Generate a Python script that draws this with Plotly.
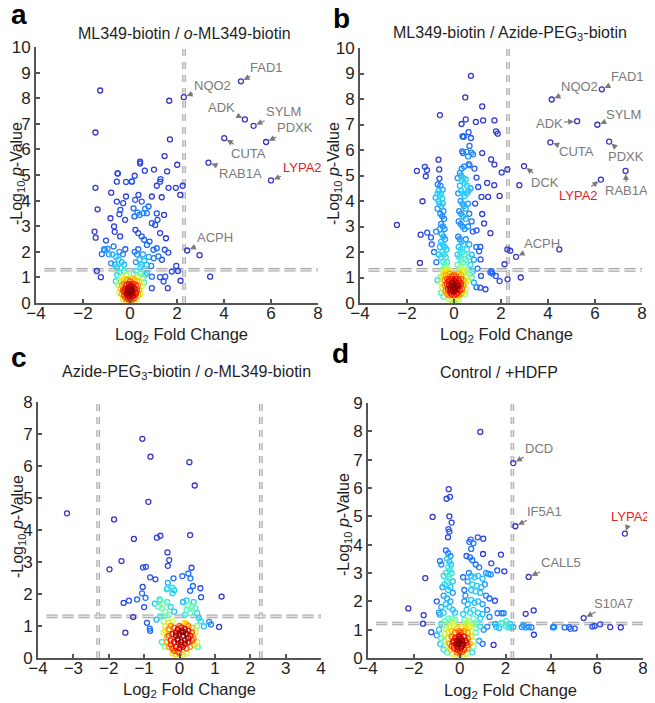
import numpy as np
import plotly.graph_objects as go

# ---- data: (log2 fold change, -log10 p) ----
A_PTS = [
    (-1.27, 8.30), (-1.47, 6.66), (1.67, 7.90), (2.29, 8.04), (4.72, 8.66), (4.89, 7.17), (5.26, 6.92),
    (5.79, 6.29), (4.01, 6.44), (3.34, 5.48), (6.00, 4.79), (1.70, 6.39), (1.47, 5.74), (2.01, 5.40),
    (1.58, 5.14), (1.02, 5.21), (0.63, 5.17), (0.43, 5.52), (0.43, 5.45), (0.20, 4.97), (-0.52, 5.06),
    (1.30, 4.84), (2.43, 2.05), (2.96, 1.87), (3.41, 1.03), (2.24, 4.58), (2.14, 4.22), (1.95, 4.50),
    (1.64, 4.50), (1.28, 4.74), (1.14, 4.58), (1.35, 4.13), (1.45, 3.44), (1.14, 3.50), (0.93, 4.16),
    (-1.47, 4.50), (-1.38, 3.66), (-1.51, 2.79), (-1.46, 2.55), (-0.80, 4.31), (-0.56, 3.96), (-0.17, 4.73),
    (0.08, 4.75), (-1.41, 1.25), (-1.24, 1.01), (1.53, 2.53), (1.63, 1.97), (1.97, 1.45), (1.78, 1.23),
    (2.04, 1.25), (2.15, 0.87), (1.61, 0.58), (1.43, 0.84), (1.50, 1.03), (1.28, 1.01), (0.93, 0.58),
    (0.93, 1.03), (0.72, 1.17),
    (-0.29, 3.90), (-0.41, 3.64), (-0.45, 3.47), (-0.21, 3.25), (-0.68, 2.99), (-0.83, 3.31), (-0.65, 2.78),
    (-0.42, 2.60), (-1.02, 2.44), (-0.96, 2.12), (-1.07, 2.08), (-1.20, 1.91), (-0.70, 2.21), (0.19, 3.38),
    (0.32, 3.53), (0.40, 3.44), (0.23, 2.86), (0.35, 2.73), (0.50, 2.60), (0.60, 2.47), (0.72, 2.27),
    (0.83, 2.40), (1.00, 2.08), (1.14, 2.14), (0.57, 3.51), (0.72, 3.51), (0.64, 3.68), (0.79, 3.77),
    (0.93, 3.12), (1.07, 3.05), (1.17, 3.25), (1.28, 2.73), (1.48, 2.08), (1.21, 1.82), (1.36, 1.69),
    (1.01, 1.75), (0.22, 4.03), (0.36, 4.22), (0.50, 3.96), (0.15, 3.70), (-0.17, 4.16), (-0.56, 4.74),
    (0.08, 4.74), (-0.53, 5.06), (-1.10, 2.10), (-0.90, 1.90),
    (-0.75, 1.90), (-0.60, 1.80), (-0.50, 1.70), (-0.45, 2.00), (-0.35, 1.60), (-0.30, 1.90), (-0.25, 1.50),
    (-0.65, 1.50), (-0.55, 1.40), (0.25, 1.60), (0.30, 1.90), (0.40, 1.70), (0.50, 1.50), (0.55, 1.90),
    (0.60, 1.65), (0.70, 1.50), (0.80, 1.80), (0.35, 2.10), (0.20, 2.00), (-0.20, 2.10), (0.90, 1.45),
    (-0.80, 1.55), (0.45, 1.40), (-0.40, 1.35),
    (-0.55, 1.10), (-0.45, 1.20), (-0.35, 1.00), (-0.25, 1.25), (-0.15, 1.10), (0.15, 1.15), (0.25, 1.25),
    (0.35, 1.05), (0.45, 1.15), (0.55, 0.95), (-0.60, 0.85), (0.60, 0.80), (-0.50, 0.70), (0.50, 0.65),
    (0.65, 1.10),
    (-0.30, 0.90), (-0.20, 0.95), (-0.10, 0.90), (0.00, 0.85), (0.10, 0.95), (0.20, 0.90), (0.30, 0.85),
    (-0.35, 0.70), (-0.25, 0.75), (-0.15, 0.70), (-0.05, 0.75), (0.05, 0.70), (0.15, 0.75), (0.25, 0.70),
    (0.35, 0.70), (-0.40, 0.55), (-0.30, 0.50), (-0.20, 0.55), (-0.10, 0.50), (0.00, 0.55), (0.10, 0.50),
    (0.20, 0.55), (0.30, 0.50), (0.40, 0.50), (-0.35, 0.35), (-0.25, 0.30), (-0.15, 0.35), (-0.05, 0.30),
    (0.05, 0.35), (0.15, 0.30), (0.25, 0.35), (0.35, 0.30), (-0.30, 0.15), (-0.20, 0.20), (-0.10, 0.15),
    (0.00, 0.20), (0.10, 0.15), (0.20, 0.20), (0.30, 0.15), (-0.15, 0.05), (-0.05, 0.02), (0.05, 0.05),
    (0.15, 0.03), (-0.05, 0.60), (0.05, 0.45), (-0.10, 0.40), (0.10, 0.65), (0.00, 0.40), (0.00, 0.10),
    (-0.45, 0.85), (0.42, 0.85), (-0.45, 0.40), (0.45, 0.35), (-0.25, 0.45), (0.25, 0.42), (0.00, 0.65),
    (-0.10, 0.25), (0.10, 0.27),
]

B_PTS = [
    (0.72, 8.91), (0.48, 8.06), (1.20, 7.71), (-0.60, 7.37), (0.50, 7.20), (0.32, 7.02), (0.93, 7.10),
    (1.24, 7.16), (1.72, 7.16), (1.79, 6.73), (1.86, 6.64), (0.62, 6.70), (0.72, 6.47), (0.39, 6.53),
    (0.36, 6.53), (0.42, 6.52), (0.66, 6.16), (0.53, 5.93), (0.74, 5.90), (0.81, 5.83), (0.35, 5.95),
    (0.38, 5.88), (1.20, 5.88), (1.58, 5.63), (1.72, 5.43), (0.60, 5.75), (0.63, 5.45), (0.66, 5.40),
    (0.43, 5.35), (0.87, 5.27), (0.33, 5.27), (-0.66, 5.62), (-0.63, 5.24), (-1.24, 5.34), (-1.15, 5.21),
    (-1.58, 5.18), (2.27, 5.24), (2.03, 5.12), (2.98, 5.37), (4.16, 7.98), (6.29, 8.38), (5.24, 7.13),
    (6.10, 6.99), (4.10, 6.30), (6.60, 6.33), (7.30, 5.18), (6.25, 4.84),
    (2.78, 4.62), (1.94, 4.20), (1.71, 4.62), (1.45, 4.16), (1.41, 4.71), (1.17, 4.16), (1.03, 4.55),
    (0.96, 4.92), (0.90, 3.90), (1.20, 3.49), (1.28, 3.12), (0.96, 2.85), (1.55, 2.74), (1.12, 2.20),
    (1.07, 2.03), (1.13, 1.71), (1.00, 1.35), (1.15, 1.06), (1.55, 1.20), (1.64, 1.15), (1.78, 1.06),
    (1.60, 1.25), (1.94, 0.86), (2.28, 0.93), (2.84, 1.00), (2.27, 2.10), (2.39, 2.05), (2.64, 1.81),
    (4.48, 2.10), (2.15, 1.52), (1.34, 0.54), (1.12, 0.60), (0.96, 0.62), (-2.43, 3.06), (-1.42, 2.68),
    (-1.34, 3.99), (-1.45, 1.57), (-1.14, 2.76), (-0.98, 2.57), (-0.76, 2.80), (-1.20, 4.97), (-0.69, 4.65),
    (-0.62, 4.88), (-0.70, 4.29), (-0.78, 4.13),
    (-0.65, 4.40), (-0.60, 4.20), (-0.55, 4.30), (-0.50, 4.10), (-0.62, 3.90), (-0.55, 3.80), (-0.48, 3.90),
    (-0.45, 3.60), (-0.58, 3.50), (-0.50, 3.40), (-0.42, 3.30), (-0.55, 3.10), (-0.47, 3.00), (-0.40, 2.90),
    (-0.60, 2.90), (-0.52, 2.70), (-0.45, 2.60), (-0.38, 2.50), (-0.66, 4.00), (-0.70, 3.70), (-0.48, 4.45),
    (-0.58, 4.60),
    (-0.55, 2.40), (-0.48, 2.30), (-0.40, 2.20), (-0.50, 2.00), (-0.42, 1.90), (-0.35, 1.80), (-0.60, 2.20),
    (-0.55, 1.80), (-0.45, 1.60), (-0.32, 2.10), (-0.30, 1.60), (-0.65, 1.90), (-0.75, 1.60), (-0.85, 2.00),
    (-0.95, 2.30),
    (0.30, 5.00), (0.35, 4.80), (0.40, 4.90), (0.45, 4.70), (0.50, 4.85), (0.55, 4.60), (0.25, 4.60),
    (0.30, 4.40), (0.38, 4.30), (0.45, 4.20), (0.55, 4.30), (0.62, 4.40), (0.70, 4.50), (0.28, 4.00),
    (0.35, 3.90), (0.42, 3.80), (0.50, 3.70), (0.60, 3.90), (0.22, 3.60), (0.30, 3.50), (0.38, 3.40),
    (0.50, 3.30), (0.65, 3.50), (0.20, 3.20), (0.28, 3.10), (0.36, 3.00), (0.45, 2.90), (0.60, 3.00),
    (0.75, 3.20), (0.80, 2.80), (0.25, 5.10), (0.15, 4.90), (0.18, 4.30),
    (0.18, 2.60), (0.25, 2.50), (0.32, 2.40), (0.40, 2.30), (0.50, 2.50), (0.20, 2.20), (0.28, 2.10),
    (0.36, 2.00), (0.45, 1.90), (0.55, 2.10), (0.65, 2.30), (0.15, 1.90), (0.22, 1.80), (0.30, 1.70),
    (0.40, 1.60), (0.50, 1.70), (0.62, 1.80), (0.75, 1.90), (0.85, 1.70), (0.95, 2.20), (0.70, 1.50),
    (-0.40, 1.50), (-0.30, 1.40), (-0.20, 1.30), (0.15, 1.50), (0.25, 1.40), (0.35, 1.30), (0.45, 1.45),
    (0.55, 1.25), (-0.50, 1.30), (-0.45, 1.10), (-0.35, 1.20), (0.65, 1.15), (0.75, 1.00), (-0.60, 1.00),
    (0.60, 0.90), (0.85, 0.80), (-0.70, 0.90), (0.80, 1.25),
    (-0.35, 1.10), (-0.20, 1.15), (-0.10, 1.05), (0.00, 1.10), (0.10, 1.05), (0.20, 1.15), (0.30, 1.10),
    (-0.40, 0.90), (-0.30, 0.95), (-0.20, 0.90), (-0.10, 0.95), (0.00, 0.90), (0.10, 0.95), (0.20, 0.90),
    (0.30, 0.95), (0.40, 0.90), (-0.40, 0.70), (-0.30, 0.75), (-0.20, 0.70), (-0.10, 0.75), (0.00, 0.70),
    (0.10, 0.75), (0.20, 0.70), (0.30, 0.75), (0.40, 0.70), (-0.35, 0.50), (-0.25, 0.55), (-0.15, 0.50),
    (-0.05, 0.55), (0.05, 0.50), (0.15, 0.55), (0.25, 0.50), (0.35, 0.55), (-0.30, 0.35), (-0.20, 0.30),
    (-0.10, 0.35), (0.00, 0.30), (0.10, 0.35), (0.20, 0.30), (0.30, 0.35), (-0.20, 0.15), (-0.10, 0.10),
    (0.00, 0.15), (0.10, 0.10), (0.20, 0.15), (0.00, 0.03), (-0.05, 0.80), (0.05, 0.60), (-0.05, 0.45),
    (0.05, 0.85), (-0.15, 0.60), (0.15, 0.65),
    (-0.55, 0.80), (-0.50, 0.60), (-0.55, 0.40), (-0.45, 0.25), (0.50, 0.80), (0.50, 0.55), (0.45, 0.35),
    (0.55, 1.00), (-0.50, 1.05), (-0.40, 1.25), (0.40, 1.20), (-0.25, 1.30), (0.25, 1.30), (-0.25, 0.85),
    (0.25, 0.80), (-0.15, 0.40), (0.15, 0.40), (0.35, 0.40), (-0.40, 0.45), (0.00, 0.45), (0.00, 0.62),
]

C_PTS = [
    (-1.05, 6.85), (-0.82, 6.29), (0.28, 6.12), (0.43, 5.39), (-0.88, 4.88), (-3.18, 4.52), (-1.85, 4.33),
    (-1.29, 3.72), (-0.64, 3.76), (-0.54, 3.82), (0.30, 3.84), (-0.34, 3.30), (-0.29, 3.06), (-0.33, 2.88),
    (-1.64, 3.03), (-1.98, 2.77), (-1.03, 2.83), (-0.95, 2.85), (-0.83, 2.52), (-0.68, 2.46), (-0.17, 2.49),
    (0.08, 2.56), (0.25, 2.64), (0.34, 2.82), (0.31, 2.49), (0.38, 2.25), (0.59, 2.18), (0.30, 2.10),
    (0.61, 1.90), (1.19, 1.92), (-0.33, 2.35), (-0.36, 2.15), (-0.34, 2.17), (-0.20, 2.20), (-0.15, 2.12),
    (-0.20, 2.02), (-1.04, 2.22), (-1.06, 2.02), (-0.96, 1.88), (-1.20, 1.83), (-1.43, 1.79), (-1.58, 1.72),
    (-1.00, 1.59), (-1.31, 1.28), (-0.92, 1.10), (-0.83, 0.85), (-0.84, 0.92), (-1.53, 0.79), (0.84, 1.13),
    (0.89, 1.05), (1.12, 0.97), (0.69, 0.99), (0.52, 0.34), (-0.55, 1.80), (-0.56, 1.83),
    (-0.70, 1.70), (-0.60, 1.60), (-0.50, 1.55), (-0.45, 1.70), (-0.35, 1.75), (-0.25, 1.60), (-0.40, 1.45),
    (-0.30, 1.35), (-0.55, 1.30), (-0.65, 1.20), (0.10, 1.75), (0.20, 1.80), (0.25, 1.65), (0.35, 1.60),
    (0.40, 1.75), (0.45, 1.55), (0.50, 1.40), (0.30, 1.40), (0.20, 1.50), (0.55, 1.25), (0.60, 1.15),
    (0.15, 1.35), (-0.15, 1.45), (-0.45, 1.15), (0.50, 1.00),
    (-0.40, 1.00), (-0.30, 1.10), (-0.20, 1.15), (0.15, 1.10), (0.25, 1.00), (0.35, 0.95), (0.45, 0.80),
    (-0.45, 0.80), (-0.35, 0.65), (0.40, 0.60), (0.50, 0.50), (-0.50, 0.50), (0.50, 0.35),
    (-0.30, 0.90), (-0.15, 0.95), (-0.05, 0.90), (0.05, 0.95), (0.15, 0.90), (0.25, 0.85), (-0.30, 0.70),
    (-0.20, 0.75), (-0.10, 0.70), (0.00, 0.75), (0.10, 0.70), (0.20, 0.75), (0.30, 0.70), (-0.35, 0.50),
    (-0.25, 0.55), (-0.15, 0.50), (-0.05, 0.55), (0.05, 0.50), (0.15, 0.55), (0.25, 0.50), (0.35, 0.55),
    (-0.30, 0.35), (-0.20, 0.30), (-0.10, 0.35), (0.00, 0.30), (0.10, 0.35), (0.20, 0.30), (0.30, 0.35),
    (-0.20, 0.15), (-0.10, 0.10), (0.00, 0.15), (0.10, 0.10), (0.20, 0.15), (0.00, 0.03), (-0.05, 0.60),
    (0.05, 0.40), (-0.25, 0.42), (0.25, 0.62), (-0.15, 0.22), (0.15, 0.45), (-0.05, 0.20), (0.05, 0.82),
    (-0.40, 0.85), (0.35, 0.80), (-0.42, 0.35), (0.42, 0.40), (-0.25, 1.00), (0.20, 1.05), (0.00, 1.00),
    (-0.10, 0.80), (0.10, 0.82),
]

D_PTS = [
    (0.90, 7.98), (2.34, 6.88), (-0.48, 5.96), (-0.42, 5.69), (-0.57, 5.62), (-1.18, 4.98), (-0.45, 5.00),
    (-0.35, 4.78), (-0.49, 4.55), (-0.45, 4.46), (-0.51, 4.26), (0.79, 4.26), (1.03, 4.21), (0.48, 4.18),
    (0.42, 4.10), (2.43, 4.65), (7.21, 4.39), (1.02, 3.67), (1.80, 3.65), (1.38, 3.34), (1.64, 3.09),
    (1.95, 3.06), (1.25, 2.97), (1.35, 2.95), (1.15, 3.00), (3.01, 2.86), (3.23, 1.68), (2.88, 1.56),
    (5.41, 1.41), (-1.50, 2.82), (-2.24, 1.75), (-1.57, 1.51), (-1.60, 1.21), (-1.24, 0.91), (-0.86, 1.53),
    (-0.86, 3.42), (-0.80, 3.30), (1.54, 2.02), (1.48, 0.46), (1.65, 1.58), (1.83, 1.58), (1.92, 1.58),
    (1.72, 1.06), (1.82, 1.24), (1.99, 1.14), (2.13, 1.08), (2.24, 1.09), (2.34, 1.09), (2.71, 1.09),
    (2.79, 1.15), (2.88, 1.08), (3.01, 1.09), (3.13, 1.08), (3.24, 0.82), (4.07, 1.08), (4.10, 1.10),
    (4.12, 1.09), (4.09, 1.11), (4.58, 1.08), (4.77, 1.09), (4.84, 1.03), (5.02, 1.04), (5.79, 1.11),
    (5.89, 1.13), (6.13, 1.19), (6.57, 1.09), (7.03, 1.08), (2.03, 1.30), (1.90, 1.22), (1.60, 1.10),
    (1.55, 1.20), (2.20, 1.20),
    (-0.60, 3.80), (-0.50, 3.70), (-0.40, 3.60), (-0.55, 3.50), (-0.45, 3.40), (-0.38, 3.30), (-0.50, 3.20),
    (-0.42, 3.10), (-0.60, 3.00), (-0.35, 3.00), (-0.50, 2.90), (-0.70, 2.90), (-0.45, 2.80), (-0.30, 2.70),
    (-0.55, 2.70), (-0.65, 2.60), (-0.40, 2.50), (-0.75, 2.50), (-0.50, 2.40), (-0.30, 2.30),
    (0.30, 3.60), (0.45, 3.55), (0.55, 3.45), (0.70, 3.30), (0.85, 3.20), (0.40, 3.00), (0.50, 2.90),
    (0.65, 2.85), (0.80, 2.90), (1.00, 2.80), (0.35, 2.70), (0.55, 2.60), (0.75, 2.55), (0.95, 2.50),
    (1.10, 2.60), (0.50, 2.40), (0.70, 2.35), (0.90, 2.30), (1.15, 2.20), (1.30, 2.10), (0.20, 2.40),
    (0.15, 2.85), (0.60, 4.05), (0.50, 3.85), (0.25, 2.20),
    (-0.70, 2.20), (-0.55, 2.10), (-0.40, 2.00), (-0.60, 1.90), (-0.45, 1.80), (-0.30, 1.70), (-0.80, 1.80),
    (-0.90, 1.60), (-1.00, 2.00), (-0.70, 1.60), (0.20, 2.00), (0.35, 1.90), (0.50, 2.05), (0.65, 1.95),
    (0.80, 2.00), (1.00, 1.90), (0.30, 1.70), (0.45, 1.60), (0.60, 1.70), (0.80, 1.60), (1.00, 1.55),
    (1.20, 1.70), (1.30, 1.45), (0.90, 1.40), (-0.20, 1.60), (0.15, 1.55),
    (-0.65, 1.30), (-0.50, 1.40), (-0.35, 1.40), (-0.20, 1.35), (0.20, 1.35), (0.40, 1.30), (0.60, 1.40),
    (0.75, 1.20), (0.90, 1.10), (1.05, 1.00), (1.20, 1.10), (-0.80, 1.20), (-0.90, 1.00), (-1.00, 0.80),
    (-0.85, 0.50), (-0.70, 0.30), (0.70, 0.90), (0.85, 0.60), (1.00, 0.50), (-0.60, 1.05), (0.50, 1.10),
    (-0.40, 1.10), (-0.25, 1.15), (-0.10, 1.05), (0.10, 1.10), (0.25, 1.05), (0.40, 1.10), (-0.50, 0.90),
    (-0.35, 0.95), (-0.20, 0.90), (-0.05, 0.95), (0.05, 0.90), (0.20, 0.95), (0.35, 0.90), (0.50, 0.95),
    (-0.50, 0.70), (-0.35, 0.75), (-0.20, 0.70), (-0.05, 0.75), (0.05, 0.70), (0.20, 0.75), (0.35, 0.70),
    (0.50, 0.75), (-0.45, 0.50), (-0.30, 0.55), (-0.15, 0.50), (0.00, 0.55), (0.15, 0.50), (0.30, 0.55),
    (0.45, 0.50), (-0.40, 0.30), (-0.25, 0.35), (-0.10, 0.30), (0.05, 0.35), (0.20, 0.30), (0.35, 0.35),
    (-0.30, 0.15), (-0.15, 0.10), (0.00, 0.15), (0.15, 0.10), (0.30, 0.15), (0.00, 0.03), (-0.10, 0.60),
    (0.10, 0.60), (0.00, 0.80), (-0.10, 0.40), (0.10, 0.42), (0.00, 0.25),
    (-0.65, 0.85), (-0.70, 0.60), (-0.60, 0.40), (-0.55, 0.20), (0.60, 0.60), (0.60, 0.40), (0.55, 0.20),
    (-0.60, 1.15), (0.60, 1.20), (-0.30, 1.25), (0.30, 1.25), (-0.80, 0.70), (-0.25, 0.60), (0.25, 0.62),
    (-0.35, 0.42), (0.35, 0.45), (0.00, 0.68), (-0.05, 0.50), (0.08, 0.48), (-0.12, 0.20), (0.12, 0.22),
]

# labelled proteins: (name, x, y)
A_LABELS = [("FAD1", 4.72, 8.66), ("NQO2", 2.29, 8.04), ("ADK", 4.89, 7.17), ("SYLM", 5.26, 6.92),
            ("PDXK", 5.79, 6.29), ("CUTA", 4.01, 6.44), ("RAB1A", 3.34, 5.48), ("LYPA2", 6.00, 4.79),
            ("ACPH", 2.43, 2.05)]
B_LABELS = [("NQO2", 4.16, 7.98), ("FAD1", 6.29, 8.38), ("ADK", 5.24, 7.13), ("SYLM", 6.10, 6.99),
            ("CUTA", 4.10, 6.30), ("PDXK", 6.60, 6.33), ("DCK", 2.98, 5.37), ("LYPA2", 6.25, 4.84),
            ("RAB1A", 7.30, 5.18), ("ACPH", 2.64, 1.81)]
D_LABELS = [("DCD", 2.34, 6.88), ("IF5A1", 2.43, 4.65), ("LYPA2", 7.21, 4.39), ("CALL5", 3.01, 2.86),
            ("S10A7", 5.41, 1.41)]

TITLES = ["ML349-biotin / <i>o</i>-ML349-biotin",
          "ML349-biotin / Azide-PEG<sub>3</sub>-biotin",
          "Azide-PEG<sub>3</sub>-biotin / <i>o</i>-ML349-biotin",
          "Control / +HDFP"]
LETTERS = ["a", "b", "c", "d"]
FC_CUT = [2.3, 2.3, 2.3, 2.3]
P_CUT = [1.3, 1.3, 1.3, 1.22]
X_TITLE = "Log<sub>2</sub> Fold Change"
Y_TITLE = "-Log<sub>10</sub> <i>p</i>-Value"

# ---- layout: positions in page pixels; the page body adds an 8px margin ----
OFF = 8
W, H = 655 - OFF, 703 - OFF
FONT = "Liberation Sans, Arial, sans-serif"
PANELS = [
    dict(px=(36, 318), py=(47, 303), xr=(-4, 8), yr=(0, 10), xd=2),
    dict(px=(360, 642), py=(48, 303), xr=(-4, 8), yr=(0, 10), xd=2),
    dict(px=(38, 321), py=(402, 658), xr=(-4, 4), yr=(0, 8), xd=1),
    dict(px=(368, 643), py=(403, 658), xr=(-4, 8), yr=(0, 9), xd=2),
]
TITLE_POS = [(184, 33), (510, 33), (186, 372), (499, 372)]
XT_POS = [(181, 335), (506, 335), (189, 690), (510, 691)]
YT_POS = [(17, 174), (334, 174), (18, 527), (344, 525)]
LETTER_POS = [(9, -3), (331, 1), (9, 340), (330, 336)]

OFFSETS = {
    (0, "FAD1"): (26, -14), (0, "NQO2"): (29, -12), (0, "ADK"): (-23, -12), (0, "SYLM"): (30, -14),
    (0, "PDXK"): (29, -14), (0, "CUTA"): (24, 15), (0, "RAB1A"): (32, 11), (0, "LYPA2"): (31, -13),
    (0, "ACPH"): (28, -13),
    (1, "NQO2"): (28, -13), (1, "FAD1"): (26, -13), (1, "ADK"): (-28, 2), (1, "SYLM"): (26, -10),
    (1, "CUTA"): (26, 9), (1, "PDXK"): (17, 15), (1, "DCK"): (21, 16), (1, "LYPA2"): (-22, 16),
    (1, "RAB1A"): (1, 20), (1, "ACPH"): (26, -13),
    (3, "DCD"): (26, -15), (3, "IF5A1"): (29, -15), (3, "LYPA2"): (6, -17), (3, "CALL5"): (32, -14),
    (3, "S10A7"): (30, -15),
}

JET = [[0.0, "#3434c4"], [0.05, "#2f3fe0"], [0.13, "#1e6cff"], [0.24, "#20c8ff"], [0.34, "#50ffc0"],
       [0.44, "#c8ff40"], [0.54, "#ffe000"], [0.66, "#ff8000"], [0.78, "#ff2000"], [0.9, "#d00000"],
       [1.0, "#8a0000"]]


def fx(p):
    return (p - OFF) / W


def fy(p):
    return 1 - (p - OFF) / H


def density(pts, sx, sy, h=6.0):
    x = np.array([p[0] for p in pts]) * sx
    y = np.array([p[1] for p in pts]) * sy
    d = np.exp(-((x[:, None] - x[None, :]) ** 2 + (y[:, None] - y[None, :]) ** 2) / (2 * h * h)).sum(1)
    return (d - d.min()) / (d.max() - d.min())


fig = go.Figure()
layout = {}
shapes = []
annotations = []
txt = dict(family=FONT, color="#1f1f1f")

for i, (pts, pan) in enumerate(zip([A_PTS, B_PTS, C_PTS, D_PTS], PANELS)):
    n = "" if i == 0 else str(i + 1)
    xa, ya = "x" + n, "y" + n
    x0, x1 = pan["px"]
    yt, yb = pan["py"]
    sx = (x1 - x0) / (pan["xr"][1] - pan["xr"][0])
    sy = (yb - yt) / (pan["yr"][1] - pan["yr"][0])

    c = density(pts, sx, sy)
    order = np.argsort(c)
    xs = np.array([p[0] for p in pts])[order]
    ys = np.array([p[1] for p in pts])[order]

    cuts = [-FC_CUT[i], FC_CUT[i]] if i == 2 else [FC_CUT[i]]
    for lw, col in [(3.6, "#a5a5a5"), (1.6, "#e4e4e4")]:
        for xc in cuts:
            shapes.append(dict(type="line", xref=xa, yref="y" + n + " domain", x0=xc, x1=xc,
                               y0=0, y1=1, layer="below", line=dict(color=col, width=lw, dash="7px,6px")))
        shapes.append(dict(type="line", xref="x" + n + " domain", yref=ya, x0=0.03, x1=1,
                           y0=P_CUT[i], y1=P_CUT[i], layer="below",
                           line=dict(color=col, width=lw, dash="11px,5px")))

    fig.add_trace(go.Scatter(
        x=xs, y=ys, xaxis=xa, yaxis=ya, mode="markers", showlegend=False, hoverinfo="x+y",
        marker=dict(symbol="circle-open", size=5, color=c[order], colorscale=JET, cmin=0, cmax=1,
                    line=dict(width=1.3)),
    ))

    axcommon = dict(showline=True, linecolor="#555555", linewidth=2, ticks="inside", ticklen=4,
                    tickcolor="#555555", tickwidth=1.5, showgrid=False, zeroline=False, automargin=False,
                    tickfont=dict(txt, size=17), fixedrange=True)
    layout["xaxis" + n] = dict(axcommon, domain=[fx(x0), fx(x1)], range=list(pan["xr"]), anchor=ya,
                               dtick=pan["xd"], tick0=0, ticklabelstandoff=-6)
    layout["yaxis" + n] = dict(axcommon, domain=[fy(yb), fy(yt)], range=list(pan["yr"]), anchor=xa,
                               dtick=1, tick0=0)

    tx, ty = TITLE_POS[i]
    annotations.append(dict(text=TITLES[i], x=fx(tx), y=fy(ty), xref="paper", yref="paper",
                            showarrow=False, xanchor="center", yanchor="middle", font=dict(txt, size=16)))
    tx, ty = XT_POS[i]
    annotations.append(dict(text=X_TITLE, x=fx(tx), y=fy(ty), xref="paper", yref="paper",
                            showarrow=False, xanchor="center", yanchor="middle", font=dict(txt, size=16.5)))
    tx, ty = YT_POS[i]
    annotations.append(dict(text=Y_TITLE, x=fx(tx), y=fy(ty), xref="paper", yref="paper", textangle=-90,
                            showarrow=False, xanchor="center", yanchor="middle", font=dict(txt, size=16)))
    lx, ly = LETTER_POS[i]
    annotations.append(dict(text="<b>" + LETTERS[i] + "</b>", x=fx(lx), y=fy(ly), xref="paper",
                            yref="paper", showarrow=False, xanchor="left", yanchor="top",
                            font=dict(family=FONT, size=28, color="#000000")))

for i, labels in [(0, A_LABELS), (1, B_LABELS), (3, D_LABELS)]:
    n = "" if i == 0 else str(i + 1)
    for name, x, y in labels:
        ax, ay = OFFSETS[(i, name)]
        col = "#e8202a" if name == "LYPA2" else "#7a7a7a"
        annotations.append(dict(
            text=name, x=x, y=y, xref="x" + n, yref="y" + n, showarrow=True, ax=ax, ay=ay,
            arrowhead=2, arrowsize=1, arrowwidth=1.2, arrowcolor="#7a7a7a", standoff=3,
            font=dict(family=FONT, size=13, color=col),
        ))

fig.update_layout(
    width=W, height=H, margin=dict(l=0, r=0, t=0, b=0),
    plot_bgcolor="white", paper_bgcolor="white",
    shapes=shapes, annotations=annotations, **layout,
)

fig.write_html("out.html")
